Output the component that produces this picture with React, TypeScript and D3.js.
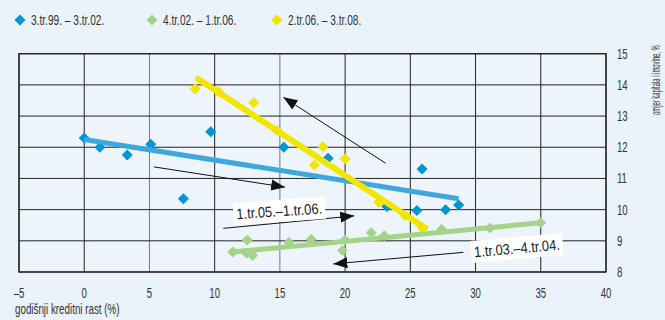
import React from "react";
import * as d3 from "d3";

const blueX = [0, 1.2, 3.3, 5.1, 7.6, 9.7, 15.3, 18.7, 23.2, 25.5, 25.9, 27.7, 28.7];
const blueY = [12.3, 12.0, 11.75, 12.1, 10.35, 12.5, 12.0, 11.65, 10.1, 9.97, 11.3, 10.0, 10.15];
const greenX = [11.4, 12.5, 12.45, 12.9, 15.7, 17.4, 19.8, 20.0, 22.0, 23.0, 27.4, 31.1, 35.0];
const greenY = [8.64, 9.03, 8.6, 8.53, 8.95, 9.05, 8.69, 9.03, 9.26, 9.16, 9.37, 9.41, 9.58];
const yellowX = [8.5, 10.3, 13.0, 14.8, 18.3, 17.65, 20.0, 22.6, 24.6, 25.9];
const yellowY = [13.88, 13.78, 13.43, 12.53, 12.02, 11.43, 11.62, 10.24, 9.81, 9.42];

const blueTrend: [number, number][] = [[0, 12.25], [28.7, 10.35]];
const greenTrend: [number, number][] = [[11.1, 8.63], [35, 9.58]];
const yellowTrend: [number, number][] = [[8.55, 14.24], [26.3, 9.37]];

const seriesNames = ["3.tr.99. – 3.tr.02.", "4.tr.02. – 1.tr.06.", "2.tr.06. – 3.tr.08."];
const xTicks = [-5, 0, 5, 10, 15, 20, 25, 30, 35, 40];
const yTicks = [8, 9, 10, 11, 12, 13, 14, 15];

const arrows: [number, number, number, number][] = [
  [23.1, 11.49, 15.27, 13.6],
  [5.35, 11.37, 15.4, 10.72],
  [10.67, 9.4, 20.7, 9.8],
  [29.07, 8.63, 19.1, 8.26],
];
const boxLabels = [
  { text: "1.tr.05.–1.tr.06.", x: 14.95, y: 9.96, rot: -4 },
  { text: "1.tr.03.–4.tr.04.", x: 33.17, y: 8.77, rot: -5 },
];

const FONT = "'Liberation Sans', Arial, sans-serif";

function CText({ x, y, sx, size, anchor, children, rot }: any) {
  return (
    <text
      transform={`translate(${x},${y})${rot ? ` rotate(${rot})` : ""} scale(${sx},1)`}
      fontSize={size}
      textAnchor={anchor || "start"}
      fill="#333"
    >
      {children}
    </text>
  );
}

export default function App() {
  const W = 665, H = 320;
  const left = 19, right = 606, top = 53.7, bottom = 272;
  const x = d3.scaleLinear().domain([-5, 40]).range([left, right]);
  const y = d3.scaleLinear().domain([8, 15]).range([bottom, top]);
  const colors = ["#0096D6", "#A5D38A", "#F0E600"];
  const lineColors = ["#3EA8DE", "#A5D38A", "#F0E600"];
  const series = [
    { xs: blueX, ys: blueY },
    { xs: greenX, ys: greenY },
    { xs: yellowX, ys: yellowY },
  ];
  const trends = [blueTrend, greenTrend, yellowTrend];
  const lineGen = d3.line<[number, number]>().x((d) => x(d[0])).y((d) => y(d[1]));
  const diamond = (cx: number, cy: number, r: number) =>
    `M${cx},${cy - r}L${cx + r},${cy}L${cx},${cy + r}L${cx - r},${cy}Z`;
  const legendX = [20, 152, 277];

  return (
    <svg width={W} height={H} style={{ position: "absolute", left: 0, top: 0 }} fontFamily={FONT}>
      <defs>
        <marker id="ah" markerUnits="userSpaceOnUse" markerWidth={16} markerHeight={12} refX={14} refY={6} orient="auto">
          <path d="M0,0.5L14,6L0,11.5Z" fill="#111" />
        </marker>
      </defs>
      <rect x={0} y={0} width={W} height={H} fill="#EAF2FA" />
      <rect x={left} y={top} width={right - left} height={bottom - top} fill="#EDF4FB" />
      {xTicks.map((t) => (
        <line key={"gx" + t} x1={x(t)} x2={x(t)} y1={top} y2={bottom}
          stroke={t === 5 || t === 15 ? "#777" : "#222"} strokeWidth={1} />
      ))}
      {yTicks.map((t) => (
        <line key={"gy" + t} x1={left} x2={right} y1={y(t)} y2={y(t)} stroke="#222" strokeWidth={1} />
      ))}
      <rect x={left} y={top} width={right - left} height={bottom - top} fill="none" stroke="#222" strokeWidth={1.3} />
      {series.map((s, i) =>
        s.xs.map((v, j) => (
          <path key={`p${i}-${j}`} d={diamond(x(v), y(s.ys[j]), 5.5)} fill={colors[i]} />
        ))
      )}
      {trends.map((t, i) => (
        <path key={"t" + i} d={lineGen(t) || ""} stroke={lineColors[i]} strokeWidth={i === 2 ? 6 : 5} fill="none" />
      ))}
      {arrows.map((a, i) => (
        <line key={"a" + i} x1={x(a[0])} y1={y(a[1])} x2={x(a[2])} y2={y(a[3])}
          stroke="#111" strokeWidth={1} markerEnd="url(#ah)" />
      ))}
      {boxLabels.map((b, i) => (
        <g key={"b" + i} transform={`translate(${x(b.x)},${y(b.y)}) rotate(${b.rot})`}>
          <rect x={-46} y={-11} width={92} height={22} fill="#fff" />
          <text transform="scale(0.86,1)" x={0} y={5.5} textAnchor="middle" fontSize={15} fill="#222">{b.text}</text>
        </g>
      ))}
      {xTicks.map((t) => (
        <CText key={"xt" + t} x={x(t)} y={298} sx={0.66} size={14.5} anchor="middle">
          {t < 0 ? "–" + Math.abs(t) : t}
        </CText>
      ))}
      {yTicks.map((t) => (
        <CText key={"yt" + t} x={617} y={y(t) + 5} sx={0.66} size={14.5}>{t}</CText>
      ))}
      <CText x={15} y={314} sx={0.7} size={14}>godišnji kreditni rast (%)</CText>
      <CText x={660} y={115} sx={0.47} size={12.5} rot={-90}>omjer kapitala i imovine, %</CText>
      {seriesNames.map((n, i) => (
        <g key={"l" + i}>
          <path d={diamond(legendX[i], 20, 5.5)} fill={colors[i]} />
          <CText x={legendX[i] + 11} y={25} sx={0.7} size={14.5}>{n}</CText>
        </g>
      ))}
    </svg>
  );
}
